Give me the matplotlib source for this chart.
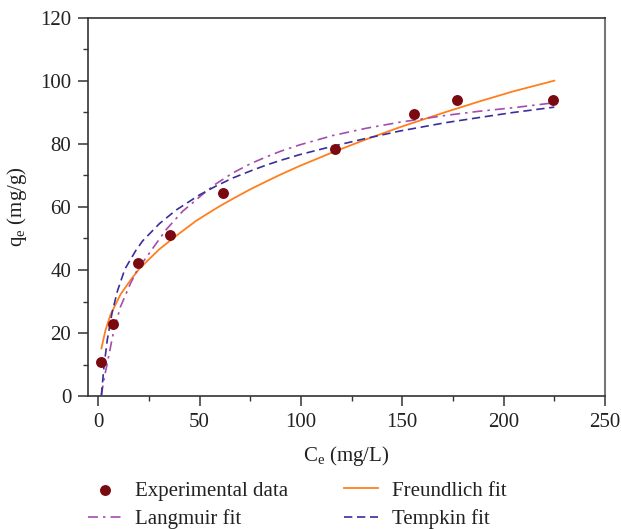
import matplotlib
matplotlib.use("Agg")
import matplotlib.pyplot as plt
from matplotlib.ticker import MultipleLocator

plt.rcParams['font.family'] = ['Liberation Serif', 'DejaVu Serif']
plt.rcParams['mathtext.fontset'] = 'custom'
plt.rcParams['mathtext.rm'] = 'Liberation Serif'
plt.rcParams['mathtext.it'] = 'Liberation Serif:italic'

# Experimental data
exp_ce = [1.6, 7.4, 19.9, 35.6, 61.5, 117, 155.9, 176.9, 224.6]
exp_qe = [10.7, 22.9, 42.2, 51.1, 64.5, 78.3, 89.5, 94.0, 94.0]

# Freundlich fit
fr_ce = [1.6, 3.6, 6.1, 11, 16, 20.3, 30.2, 38.4, 48.3, 55, 59.8, 66.4, 75, 82.9,
         90, 99.3, 115.8, 132.3, 148.7, 171.7, 188, 204.7, 225]
fr_qe = [15.1, 20.8, 25.8, 32.2, 36.8, 40.4, 46.6, 50.8, 55.6, 58.3, 60.2, 62.6,
         65.6, 68.1, 70.3, 73.0, 77.4, 81.5, 85.3, 90.2, 93.5, 96.7, 100.1]

# Langmuir fit
la_ce = [1.6, 2.8, 4.5, 7.8, 11, 16, 19.3, 25.2, 33.4, 41.6, 51.5, 58, 66.4, 75,
         82.9, 90, 99.3, 115.8, 132.3, 148.7, 171.7, 188, 204.7, 225]
la_qe = [0.2, 5.0, 10.4, 21.0, 28.3, 35.8, 40.0, 45.3, 52.7, 58.6, 64.0, 67.3,
         70.8, 73.7, 75.9, 77.7, 79.7, 82.7, 85.0, 86.9, 89.1, 90.4, 91.5, 93.1]

# Tempkin fit
te_ce = [1.6, 2.8, 4.5, 6.9, 9.5, 13.2, 18.6, 21.9, 30.2, 38.4, 49.9, 58, 66.4, 75,
         82.9, 90, 99.3, 115.8, 132.3, 148.7, 171.7, 190, 204.7, 225]
te_qe = [0.2, 8.8, 17.8, 26.5, 33.3, 40.3, 46.2, 49.2, 54.7, 59.0, 63.8, 66.6, 69.2,
         71.4, 73.3, 74.8, 76.6, 79.3, 81.8, 84.1, 86.8, 88.6, 90.0, 91.7]

x_ticks = [0, 50, 100, 150, 200, 250]
y_ticks = [0, 20, 40, 60, 80, 100, 120]

fig = plt.figure(figsize=(6.21, 5.29), dpi=100)
ax = fig.add_axes([0.1417, 0.2514, 0.8325, 0.7146])

ax.plot(fr_ce, fr_qe, color='#FF7F1E', lw=1.3, ls='-', label='Freundlich fit', zorder=2)
ax.plot(la_ce, la_qe, color='#A64CB0', lw=1.2, ls=(0, (6, 3, 1.5, 3)), label='Langmuir fit', zorder=2)
ax.plot(te_ce, te_qe, color='#3A2E9C', lw=1.2, ls=(0, (5, 2.8)), label='Tempkin fit', zorder=2)
ax.scatter(exp_ce, exp_qe, s=62, color='#7A0A10', label='Experimental data', zorder=3, linewidths=0)

ax.set_xlim(-5, 250)
ax.set_ylim(0, 120)
ax.set_xticks(x_ticks)
ax.set_yticks(y_ticks)
ax.xaxis.set_minor_locator(MultipleLocator(25))
ax.yaxis.set_minor_locator(MultipleLocator(10))
ax.tick_params(which='major', direction='out', length=7, width=1.1, colors='#333333',
               labelsize=15, labelcolor='#222222', pad=5)
ax.tick_params(which='minor', direction='out', length=3.5, width=1.0, colors='#333333')

for side in ['left', 'bottom', 'top']:
    ax.spines[side].set_color('#333333')
    ax.spines[side].set_linewidth(1.2)
ax.spines['right'].set_color('#777777')
ax.spines['right'].set_linewidth(1.5)

ax.set_xlabel(r'C$_\mathrm{e}$ (mg/L)', fontsize=15, color='#222222', labelpad=9)
ax.set_ylabel(r'q$_\mathrm{e}$ (mg/g)', fontsize=15, color='#222222', labelpad=8)

h, l = ax.get_legend_handles_labels()
order = [3, 1, 0, 2]
fig.legend([h[i] for i in order], [l[i] for i in order], ncol=2, frameon=False,
           loc='upper left', bbox_to_anchor=(0.1417, 0.0907), fontsize=15,
           handlelength=1.63, columnspacing=2.7, labelspacing=0.4, handletextpad=0.63,
           labelcolor='#222222', borderpad=0, borderaxespad=0)

fig.savefig('out.png', dpi=100)
